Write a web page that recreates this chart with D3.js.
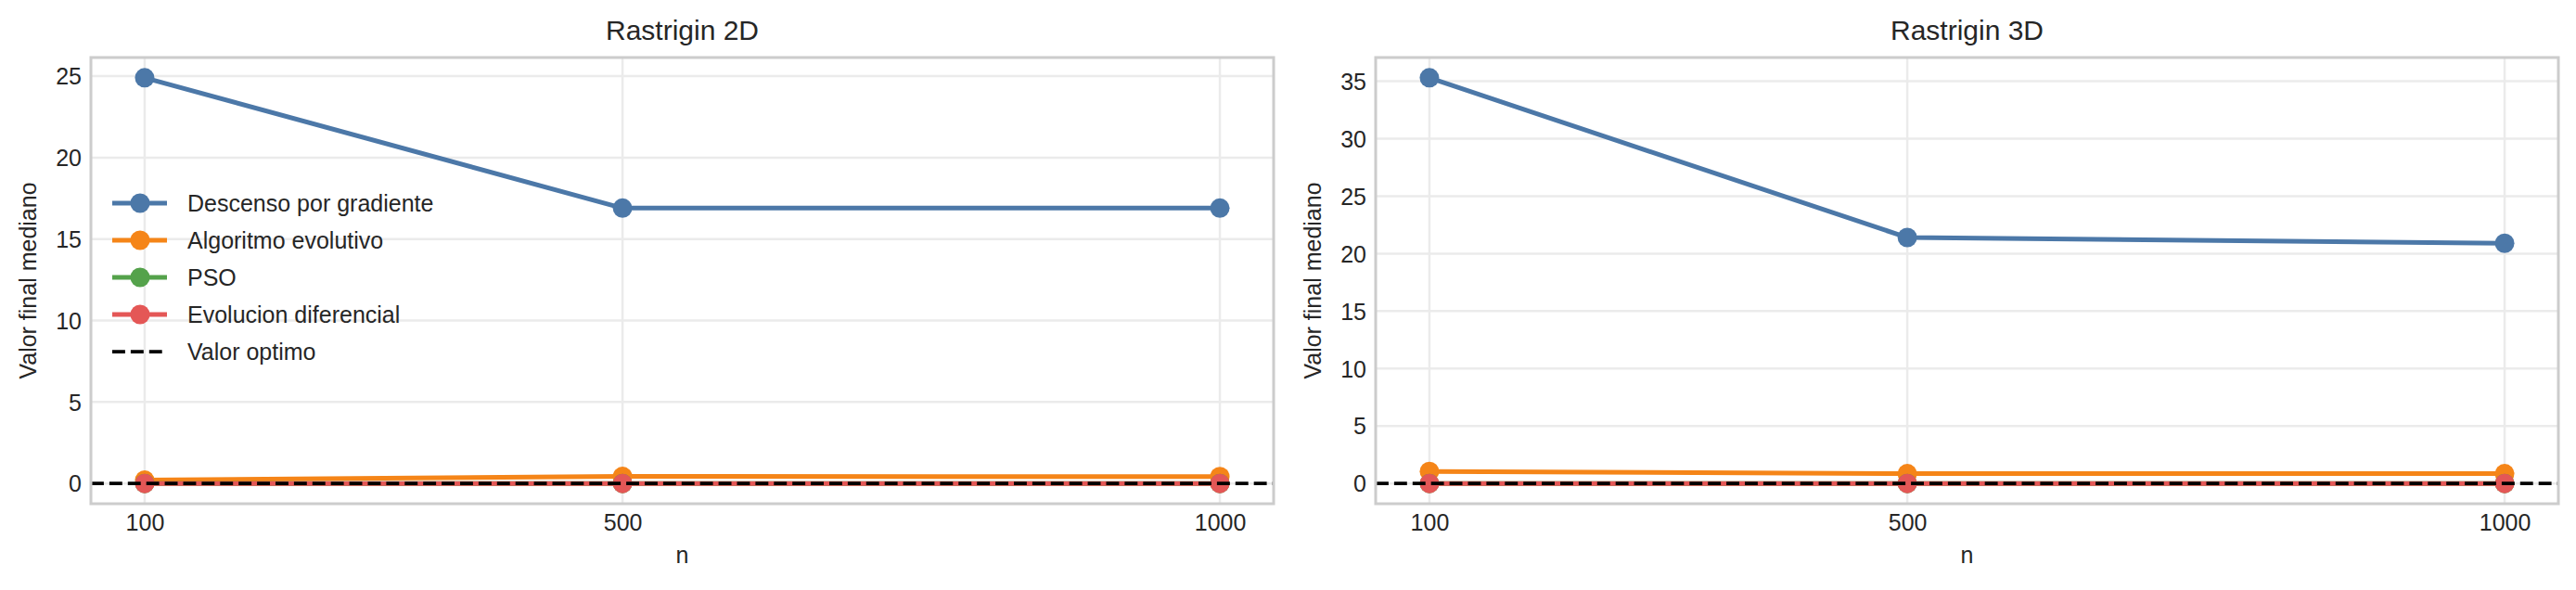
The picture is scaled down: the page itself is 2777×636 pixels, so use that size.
<!DOCTYPE html>
<html>
<head>
<meta charset="utf-8">
<script src="https://cdn.jsdelivr.net/npm/d3@7"></script>
<style>
  body { margin: 0; background: #fff; }
  text { font-family: "Liberation Sans", Arial, sans-serif; fill: #262626; }
</style>
</head>
<body>
<div id="container"></div>
<script>
/* DATA */
const nValues = [100, 500, 1000];
const xTicks = [100, 500, 1000];
const yTicks2D = [0, 5, 10, 15, 20, 25];
const yTicks3D = [0, 5, 10, 15, 20, 25, 30, 35];

const seriesNames = ["Descenso por gradiente", "Algoritmo evolutivo", "PSO", "Evolucion diferencial"];
const seriesColors = ["#4c78a8", "#f58518", "#54a24b", "#e45756"];
const optimoLabel = "Valor optimo";
const valorOptimo = 0;

// Rastrigin 2D
const gradiente2D = [24.9, 16.9, 16.9];
const evolutivo2D = [0.2, 0.43, 0.42];
const pso2D = [0, 0, 0];
const difEvol2D = [0, 0, 0];

// Rastrigin 3D
const gradiente3D = [35.3, 21.4, 20.9];
const evolutivo3D = [1.05, 0.85, 0.85];
const pso3D = [0, 0, 0];
const difEvol3D = [0, 0, 0];

const panels = [
  { title: "Rastrigin 2D", series: [gradiente2D, evolutivo2D, pso2D, difEvol2D], yTicks: yTicks2D, left: 98, legend: true },
  { title: "Rastrigin 3D", series: [gradiente3D, evolutivo3D, pso3D, difEvol3D], yTicks: yTicks3D, left: 1483, legend: false }
];

/* LAYOUT */
const W = 2777, H = 636;
const plotW = 1275, plotTop = 62, plotBottom = 543;

const svg = d3.select("#container")
  .append("svg")
  .attr("width", W)
  .attr("height", H);

panels.forEach(p => {
  const x0 = p.left, x1 = p.left + plotW;

  // matplotlib style 5% margins
  const xPad = (d3.max(nValues) - d3.min(nValues)) * 0.05;
  const xScale = d3.scaleLinear()
    .domain([d3.min(nValues) - xPad, d3.max(nValues) + xPad])
    .range([x0, x1]);

  const allVals = p.series.flat().concat([valorOptimo]);
  const yMin = d3.min(allVals), yMax = d3.max(allVals);
  const yPad = (yMax - yMin) * 0.05;
  const yScale = d3.scaleLinear()
    .domain([yMin - yPad, yMax + yPad])
    .range([plotBottom, plotTop]);

  const g = svg.append("g");

  // grid
  g.selectAll("line.ygrid")
    .data(p.yTicks)
    .join("line")
    .attr("x1", x0).attr("x2", x1)
    .attr("y1", d => yScale(d)).attr("y2", d => yScale(d))
    .attr("stroke", "#ebebeb").attr("stroke-width", 2.5);

  g.selectAll("line.xgrid")
    .data(xTicks)
    .join("line")
    .attr("x1", d => xScale(d)).attr("x2", d => xScale(d))
    .attr("y1", plotTop).attr("y2", plotBottom)
    .attr("stroke", "#ebebeb").attr("stroke-width", 2.5);

  // axes (no tick marks, whitegrid style)
  const xAxis = g.append("g")
    .attr("transform", "translate(0," + plotBottom + ")")
    .call(d3.axisBottom(xScale).tickValues(xTicks).tickFormat(d3.format("d")).tickSize(0).tickPadding(11));
  const yAxis = g.append("g")
    .attr("transform", "translate(" + x0 + ",0)")
    .call(d3.axisLeft(yScale).tickValues(p.yTicks).tickFormat(d3.format("d")).tickSize(0).tickPadding(10));

  [xAxis, yAxis].forEach(a => {
    a.select(".domain").remove();
    a.selectAll("text")
      .style("font-family", "'Liberation Sans', Arial, sans-serif")
      .style("font-size", "25px")
      .attr("fill", "#262626");
  });
  yAxis.selectAll("text").attr("dy", "0.35em");

  // lines and markers
  const line = d3.line()
    .x((d, i) => xScale(nValues[i]))
    .y(d => yScale(d));

  p.series.forEach((vals, s) => {
    g.append("path")
      .datum(vals)
      .attr("d", line)
      .attr("fill", "none")
      .attr("stroke", seriesColors[s])
      .attr("stroke-width", 5)
      .attr("stroke-linejoin", "round");
    g.selectAll("circle.s" + s)
      .data(vals)
      .join("circle")
      .attr("class", "s" + s)
      .attr("cx", (d, i) => xScale(nValues[i]))
      .attr("cy", d => yScale(d))
      .attr("r", 10.5)
      .attr("fill", seriesColors[s]);
  });

  // optimum line
  g.append("line")
    .attr("x1", x0).attr("x2", x1)
    .attr("y1", yScale(valorOptimo)).attr("y2", yScale(valorOptimo))
    .attr("stroke", "#000")
    .attr("stroke-width", 3.75)
    .attr("stroke-dasharray", "13.9,6");

  // frame
  g.append("rect")
    .attr("x", x0).attr("y", plotTop)
    .attr("width", plotW).attr("height", plotBottom - plotTop)
    .attr("fill", "none")
    .attr("stroke", "#cccccc")
    .attr("stroke-width", 3);

  // title and labels
  g.append("text")
    .attr("x", (x0 + x1) / 2).attr("y", 43)
    .attr("text-anchor", "middle")
    .style("font-size", "30px")
    .text(p.title);

  g.append("text")
    .attr("x", (x0 + x1) / 2).attr("y", 607)
    .attr("text-anchor", "middle")
    .style("font-size", "25px")
    .text("n");

  g.append("text")
    .attr("transform", "translate(" + (x0 - 59) + "," + ((plotTop + plotBottom) / 2) + ") rotate(-90)")
    .attr("text-anchor", "middle")
    .style("font-size", "25px")
    .text("Valor final mediano");

  // legend
  if (p.legend) {
    const items = seriesNames.map((name, i) => ({ name, color: seriesColors[i], dashed: false }))
      .concat([{ name: optimoLabel, color: "#000", dashed: true }]);
    const lg = g.append("g");
    items.forEach((it, i) => {
      const yy = 219 + i * 40;
      lg.append("line")
        .attr("x1", 121).attr("x2", 180)
        .attr("y1", yy).attr("y2", yy)
        .attr("stroke", it.color)
        .attr("stroke-width", it.dashed ? 3.75 : 5)
        .attr("stroke-dasharray", it.dashed ? "13.9,6" : null);
      if (!it.dashed) {
        lg.append("circle")
          .attr("cx", 151).attr("cy", yy).attr("r", 10.5)
          .attr("fill", it.color);
      }
      lg.append("text")
        .attr("x", 202).attr("y", yy)
        .attr("dy", "0.35em")
        .style("font-size", "25px")
        .text(it.name);
    });
  }
});
</script>
</body>
</html>
